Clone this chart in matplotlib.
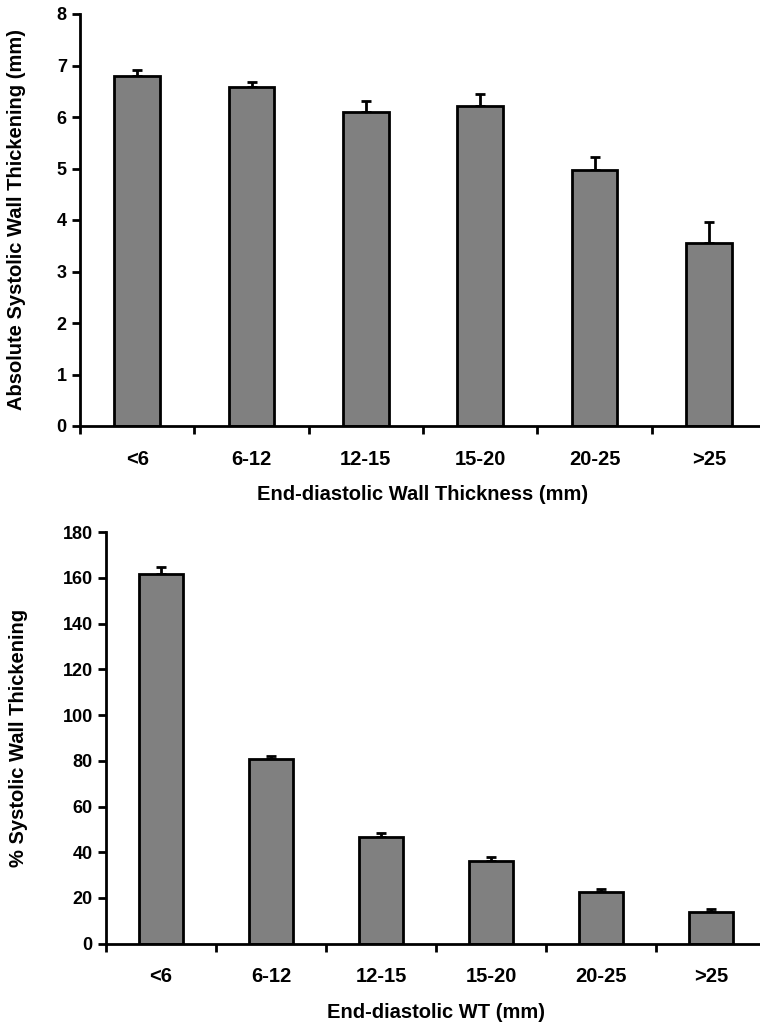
import numpy as np
import matplotlib
matplotlib.use("Agg")
import matplotlib.pyplot as plt

plt.rcParams['font.family'] = ['Liberation Sans', 'DejaVu Sans']
plt.rcParams['font.weight'] = 'bold'

# categories (end-diastolic wall thickness, mm)
categories = ["<6", "6-12", "12-15", "15-20", "20-25", ">25"]

# absolute systolic wall thickening (mm) and upper error
abs_wt = [6.80, 6.58, 6.09, 6.22, 4.98, 3.55]
abs_err = [0.11, 0.09, 0.23, 0.22, 0.24, 0.41]

# % systolic wall thickening and upper error
pct_wt = [161.6, 80.8, 46.6, 36.3, 22.6, 13.7]
pct_err = [3.3, 1.3, 1.8, 1.6, 1.2, 1.6]

bar_color = "#808080"


def draw_panel(ax, values, errors, ymax, ystep, ylabel, xlabel, ylab_x, xlab_y):
    x = np.arange(len(categories))
    ax.bar(x, values, width=0.4, color=bar_color, edgecolor="black",
           linewidth=2, zorder=2)
    ax.errorbar(x, values, yerr=[np.zeros(len(errors)), errors], fmt="none",
                ecolor="black", elinewidth=2, capsize=3.5, capthick=2, zorder=1)
    ax.set_xlim(-0.5, len(categories) - 0.5)
    ax.set_ylim(0, ymax)
    ax.set_yticks(np.arange(0, ymax + ystep / 2, ystep))
    # ticks at category borders, labels at centres
    ax.set_xticks(np.arange(-0.5, len(categories), 1.0))
    ax.set_xticklabels([])
    ax.set_xticks(x, minor=True)
    ax.set_xticklabels(categories, minor=True)
    ax.tick_params(axis="x", which="minor", length=0, pad=17, labelsize=14.5)
    ax.tick_params(axis="x", which="major", length=6, width=2, direction="out")
    ax.tick_params(axis="y", length=6, width=2, direction="out", labelsize=13)
    for s in ["top", "right"]:
        ax.spines[s].set_visible(False)
    for s in ["left", "bottom"]:
        ax.spines[s].set_linewidth(2)
    ax.set_ylabel(ylabel, fontsize=14.5, fontweight="bold")
    ax.set_xlabel(xlabel, fontsize=14.5, fontweight="bold")
    ax.yaxis.set_label_coords(ylab_x, 0.5)
    ax.xaxis.set_label_coords(0.5, xlab_y)


fig = plt.figure(figsize=(7.6, 10.24), dpi=100)

ax1 = fig.add_axes([80 / 760, 1 - 426 / 1024, 686 / 760, 412 / 1024])
draw_panel(ax1, abs_wt, abs_err, 8, 1,
           "Absolute Systolic Wall Thickening (mm)",
           "End-diastolic Wall Thickness (mm)", -0.078, -0.143)

ax2 = fig.add_axes([106 / 760, 1 - 943.6 / 1024, 660 / 760, 411.3 / 1024])
draw_panel(ax2, pct_wt, pct_err, 180, 20,
           "% Systolic Wall Thickening",
           "End-diastolic WT (mm)", -0.118, -0.145)

fig.savefig("out.png", dpi=100)
